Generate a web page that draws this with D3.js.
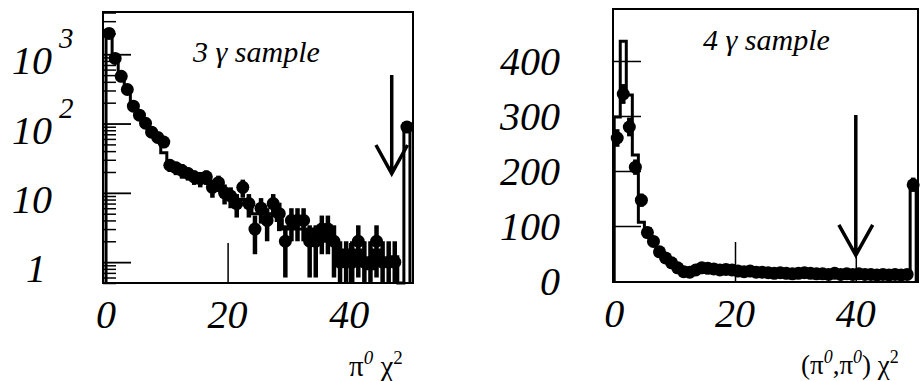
<!DOCTYPE html>
<html>
<head>
<meta charset="utf-8">
<script src="https://cdn.jsdelivr.net/npm/d3@7"></script>
<style>
  body { margin: 0; background: #fff; }
  svg { display: block; }
</style>
</head>
<body>
<svg id="chart"></svg>
<script>
// ---- data (bins of width 1 in chi^2, 0..50) ----
let data3 = [2000, 870, 480, 310, 178, 132, 101, 75, 63, 54,
  25, 23, 21, 19, 17, 16, 17, 12, 14, 10,
  9, 7, 12, 7, 3, 6, 4, 7, 5, 2,
  4, 4, 4, 2, 2, 3, 3, 2, 1, 1,
  1, 2, 1, 1, 2, 1, 1, 1, 0, 89];
let err3 = [45, 30, 22, 18, 13, 11, 10, 9, 8, 7,
  5, 5, 5, 4, 4, 4, 4, 3.5, 3.7, 3.2,
  3, 2.6, 3.5, 2.6, 1.7, 2.4, 2, 2.6, 2.2, 1.4,
  2, 2, 2, 1.4, 1.4, 1.7, 1.7, 1.4, 1, 1,
  1, 1.4, 1, 1, 1.4, 1, 1, 1, 0, 9.4];
let mc3 = [2200, 900, 470, 300, 185, 130, 100, 78, 60, 38,
  24, 22, 20, 18, 17, 15, 14, 13, 12, 11,
  9, 8, 8, 7, 5, 6, 5, 5, 4, 3,
  4, 3, 3, 2, 3, 2, 3, 2, 1, 1.5,
  1, 1.5, 1, 0.8, 1.5, 1, 1, 1.2, 0.4, 100];

let data4 = [260, 340, 280, 207, 147, 88, 72, 53, 42, 33,
  24, 17, 16, 20, 24, 23, 22, 20, 21, 20,
  18, 17, 18, 16, 16, 15, 14, 15, 14, 13,
  14, 15, 14, 13, 13, 12, 14, 12, 13, 12,
  13, 12, 12, 11, 12, 11, 12, 11, 12, 175];
let err4 = [16, 18, 17, 14, 12, 9, 8.5, 7, 6.5, 6,
  5, 4, 4, 4.5, 4.9, 4.8, 4.7, 4.5, 4.6, 4.5,
  4.2, 4, 4.2, 4, 4, 3.9, 3.7, 3.9, 3.7, 3.6,
  3.7, 3.9, 3.7, 3.6, 3.6, 3.5, 3.7, 3.5, 3.6, 3.5,
  3.6, 3.5, 3.5, 3.3, 3.5, 3.3, 3.5, 3.3, 3.5, 13];
let mc4 = [298, 436, 338, 229, 107, 95, 68, 50, 38, 30,
  24, 19, 18, 20, 23, 23, 22, 20, 20, 19,
  18, 17, 17, 16, 16, 15, 15, 14, 14, 14,
  14, 14, 13, 13, 13, 13, 13, 12, 12, 12,
  12, 12, 12, 11, 11, 11, 11, 11, 11, 178];

let xTicks = [0, 20, 40];
let xTickMarks = [20, 40];
let logMajor = [1, 10, 100, 1000];
let logBase = ["1", "10", "10", "10"];
let logExp = ["", "", "2", "3"];
let linTicks = [0, 100, 200, 300, 400];

// arrow: [x, top, tip, armLevel, armHalfWidth]
let arrow3 = [47, 500, 19, 49, 2.6];
let arrow4 = [40, 302, 47, 102, 2.8];

let width = 921;
let height = 381;

let svg = d3.select("#chart")
  .attr("width", width)
  .attr("height", height);

let x3 = d3.scaleLinear().domain([-0.5, 50.5]).range([103, 413]);
let y3 = d3.scaleLog().domain([0.5, 4070]).range([283, 12]);
let x4 = d3.scaleLinear().domain([-0.2, 50.3]).range([613, 918]);
let y4 = d3.scaleLinear().domain([-1.8, 494.5]).range([282, 9]);

let label = (g, x, y, size, italic, str) =>
  g.append("text")
    .attr("x", x)
    .attr("y", y)
    .attr("font-family", "Liberation Serif")
    .attr("font-size", size)
    .attr("font-style", italic ? "italic" : "normal")
    .attr("fill", "#000")
    .text(str);

let drawPanel = (g, x, y, data, err, mc, yMin) => {
  let clampY = (v) => y(Math.max(v, yMin));

  // MC histogram as a step line
  let pts = [[0, yMin]];
  mc.forEach((v, i) => {
    pts.push([i, v]);
    pts.push([i + 1, v]);
  });
  pts.push([50, yMin]);
  g.append("path")
    .attr("d", d3.line().x((d) => x(d[0])).y((d) => clampY(d[1]))(pts))
    .attr("fill", "none")
    .attr("stroke", "#000")
    .attr("stroke-width", 3);

  let pointData = data
    .map((v, i) => ({ i: i, v: v, e: err[i] }))
    .filter((d) => d.v > 0);

  // error bars
  g.selectAll(".err")
    .data(pointData)
    .enter()
    .append("line")
    .attr("class", "err")
    .attr("x1", (d) => x(d.i + 0.5))
    .attr("x2", (d) => x(d.i + 0.5))
    .attr("y1", (d) => clampY(d.v + d.e))
    .attr("y2", (d) => clampY(d.v - d.e))
    .attr("stroke", "#000")
    .attr("stroke-width", 4.5);

  g.selectAll(".pt")
    .data(pointData)
    .enter()
    .append("circle")
    .attr("class", "pt")
    .attr("cx", (d) => x(d.i + 0.5))
    .attr("cy", (d) => y(d.v))
    .attr("r", 6.5)
    .attr("fill", "#000");

  // frame
  g.append("rect")
    .attr("x", x.range()[0])
    .attr("y", y.range()[1])
    .attr("width", x.range()[1] - x.range()[0])
    .attr("height", y.range()[0] - y.range()[1])
    .attr("fill", "none")
    .attr("stroke", "#000")
    .attr("stroke-width", 2);

  // inward x ticks
  g.append("g")
    .attr("transform", "translate(0," + y.range()[0] + ")")
    .call(d3.axisTop(x).tickValues(xTickMarks).tickSize(40).tickFormat(""))
    .call((a) => a.select(".domain").remove())
    .selectAll("line").attr("stroke-width", 1.5);

  // x tick labels
  xTicks.forEach((d) => {
    label(g, x(d), y.range()[0] + 45, 40, true, d).attr("text-anchor", "middle");
  });
};

let drawArrow = (g, x, y, a) => {
  let path = d3.path();
  path.moveTo(x(a[0]), y(a[1]));
  path.lineTo(x(a[0]), y(a[2]));
  path.moveTo(x(a[0] - a[4]), y(a[3]));
  path.lineTo(x(a[0]), y(a[2]));
  path.lineTo(x(a[0] + a[4]), y(a[3]));
  g.append("path")
    .attr("d", path.toString())
    .attr("fill", "none")
    .attr("stroke", "#000")
    .attr("stroke-width", 3.5)
    .attr("stroke-linejoin", "miter");
};

// ---- left panel: 3 gamma sample, log scale ----
let g3 = svg.append("g");
drawPanel(g3, x3, y3, data3, err3, mc3, 0.5);

let minor = [];
[0.1, 1, 10, 100, 1000].forEach((dec) => {
  for (let k = 2; k <= 9; k++) {
    let v = dec * k;
    if (v >= 0.5 && v <= 4000) minor.push(v);
  }
});
g3.append("g")
  .attr("transform", "translate(" + x3.range()[0] + ",0)")
  .call(d3.axisRight(y3).tickValues(minor).tickSize(13).tickFormat(""))
  .call((a) => a.select(".domain").remove())
  .selectAll("line").attr("stroke-width", 1.5);
g3.append("g")
  .attr("transform", "translate(" + x3.range()[0] + ",0)")
  .call(d3.axisRight(y3).tickValues(logMajor).tickSize(28).tickFormat(""))
  .call((a) => a.select(".domain").remove())
  .selectAll("line").attr("stroke-width", 1.8);

logMajor.forEach((v, i) => {
  label(g3, i === 0 ? 46 : 52, y3(v) + 20, 40, true, logBase[i]).attr("text-anchor", "end");
  if (logExp[i]) {
    label(g3, 59, y3(v) - 6, 29, true, logExp[i]);
  }
});

drawArrow(g3, x3, y3, arrow3);

label(g3, 193, 62, 30, true, "3 \u03b3 sample");

let t3 = label(g3, 349, 376, 29, false, "");
t3.append("tspan").text("\u03c0");
t3.append("tspan").attr("dy", -12).attr("font-size", 19).attr("font-style", "italic").text("0");
t3.append("tspan").attr("dy", 12).text(" \u03c7");
t3.append("tspan").attr("dy", -12).attr("font-size", 19).text("2");

// ---- right panel: 4 gamma sample, linear scale ----
let g4 = svg.append("g");
drawPanel(g4, x4, y4, data4, err4, mc4, -1.8);

g4.append("g")
  .attr("transform", "translate(" + x4.range()[0] + ",0)")
  .call(d3.axisRight(y4).tickValues(linTicks.slice(1)).tickSize(28).tickFormat(""))
  .call((a) => a.select(".domain").remove())
  .selectAll("line").attr("stroke-width", 1.5);

linTicks.forEach((d) => {
  label(g4, 560, y4(d) + 14, 40, true, d).attr("text-anchor", "end");
});

drawArrow(g4, x4, y4, arrow4);

label(g4, 703, 50, 30, true, "4 \u03b3 sample");

let t4 = label(g4, 801, 374, 27, false, "");
t4.append("tspan").text("(\u03c0");
t4.append("tspan").attr("dy", -11).attr("font-size", 18).attr("font-style", "italic").text("0");
t4.append("tspan").attr("dy", 11).text(",\u03c0");
t4.append("tspan").attr("dy", -11).attr("font-size", 18).attr("font-style", "italic").text("0");
t4.append("tspan").attr("dy", 11).text(") \u03c7");
t4.append("tspan").attr("dy", -11).attr("font-size", 18).text("2");
</script>
</body>
</html>
